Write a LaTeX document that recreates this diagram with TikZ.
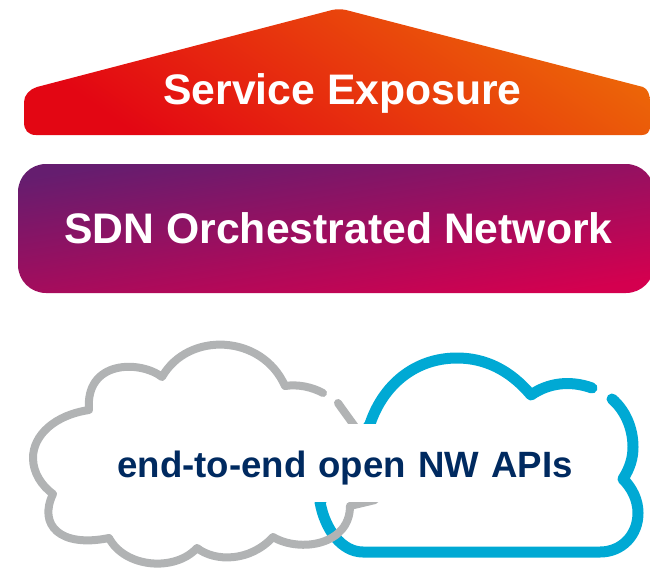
\documentclass[tikz,border=0pt]{standalone}
\usepackage{fontspec}
\setmainfont{Liberation Sans}
\definecolor{cloudgray}{HTML}{B1B3B4}
\definecolor{cloudblue}{HTML}{00A9D4}
\definecolor{apinavy}{HTML}{002A60}
\definecolor{exposred}{HTML}{E30613}
\definecolor{exposorange}{HTML}{EC6608}
\definecolor{sdnpurple}{HTML}{651D6F}
\definecolor{sdnpink}{HTML}{D4004F}
\tikzset{
  headline/.style={text=white,font=\bfseries\fontsize{42.7}{42.7}\selectfont},
  grayline/.style={draw=cloudgray,line width=8pt,line join=round,line cap=round},
  blueline/.style={draw=cloudblue,line width=11pt,line join=round,line cap=round},
}
\begin{document}
\begin{tikzpicture}[x=1pt,y=-1pt]
   \useasboundingbox (0,0) rectangle (650,570);
   % house on top
   \shade[shading=axis,top color=exposorange,bottom color=exposred,shading angle=-35]
      (24,122) -- (24,102) .. controls (24,95) and (30,89) .. (37,87)
      -- (332,10) .. controls (337,9) and (341,9) .. (346,10)
      -- (643,87) .. controls (648,89) and (650,95) .. (650,102)
      -- (650,126) .. controls (650,132) and (647,135) .. (642,135)
      -- (36,135) .. controls (28,135) and (24,130) .. (24,122) -- cycle;
   \node[headline] (expos) at (342.5,93) {Service Exposure};
   % middle bar
   \shade[shading=axis,top color=sdnpurple,bottom color=sdnpink,shading angle=9,rounded corners=28pt]
      (18,164) rectangle (654,293);
   \node[headline] (sdn) at (338.5,228) {SDN Orchestrated Network};
   % clouds
   \draw[blueline] (592,388) .. controls (570,380) and (548,383) .. (531,395)
      .. controls (510,370) and (485,358) .. (457,358)
      .. controls (415,358) and (383,385) .. (370,424) -- (320,502)
      .. controls (325,530) and (342,552) .. (363,552) -- (600,552)
      .. controls (622,552) and (638,535) .. (638,513)
      .. controls (638,500) and (632,488) .. (623,479)
      .. controls (630,468) and (633,458) .. (633,447)
      .. controls (633,428) and (625,410) .. (612,399);
   \draw[grayline] (323,393) .. controls (312,387) and (298,384) .. (285,386)
      .. controls (262,334) and (188,331) .. (162,377)
      .. controls (140,360) and (85,360) .. (89,410)
      .. controls (55,415) and (33,435) .. (33,458)
      .. controls (33,473) and (42,486) .. (53,494)
      .. controls (38,525) and (60,548) .. (109,538)
      .. controls (125,568) and (175,572) .. (197,548)
      .. controls (215,562) and (250,562) .. (273,537)
      .. controls (300,553) and (350,545) .. (350,506)
      .. controls (358,504) and (367,502) .. (375,500)
      .. controls (392,470) and (358,432) .. (338,403);
   \node[fill=white,inner sep=0pt,text width=470pt,align=center,text height=53pt,text depth=25pt,text=apinavy,
      font=\bfseries\fontsize{36.6}{36.6}\selectfont] (apis) at (345,463) {end-to-end open NW APIs};
\end{tikzpicture}
\end{document}
